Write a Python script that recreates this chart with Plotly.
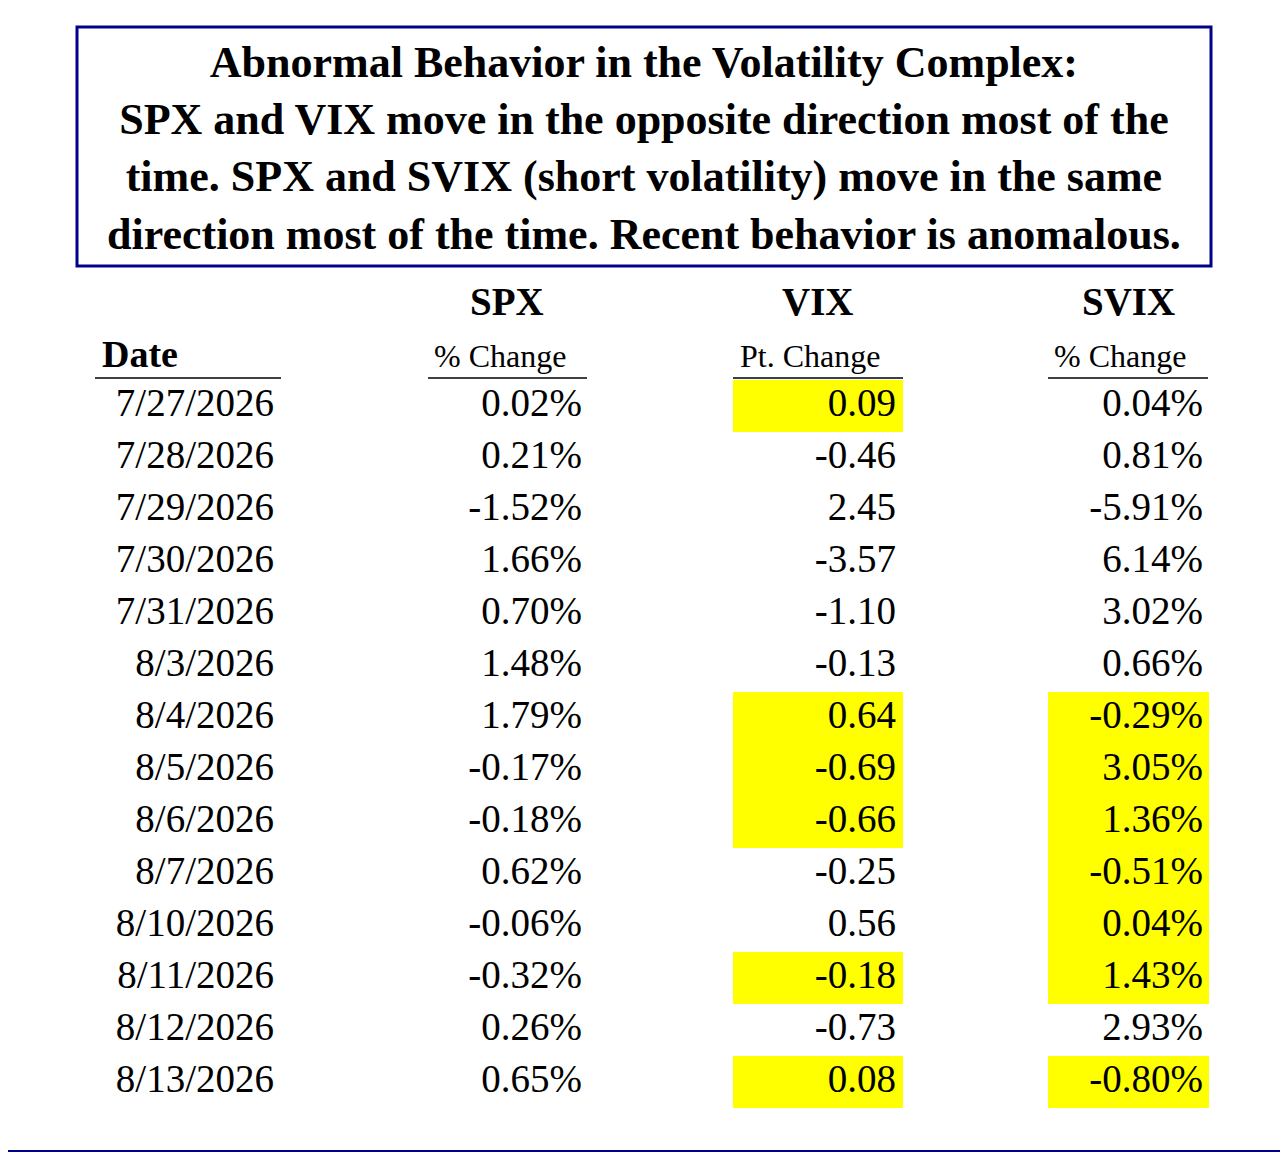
import plotly.graph_objects as go

dates = ["7/27/2026","7/28/2026","7/29/2026","7/30/2026","7/31/2026","8/3/2026","8/4/2026",
         "8/5/2026","8/6/2026","8/7/2026","8/10/2026","8/11/2026","8/12/2026","8/13/2026"]
spx = ["0.02%","0.21%","-1.52%","1.66%","0.70%","1.48%","1.79%","-0.17%","-0.18%","0.62%","-0.06%","-0.32%","0.26%","0.65%"]
vix = ["0.09","-0.46","2.45","-3.57","-1.10","-0.13","0.64","-0.69","-0.66","-0.25","0.56","-0.18","-0.73","0.08"]
svix = ["0.04%","0.81%","-5.91%","6.14%","3.02%","0.66%","-0.29%","3.05%","1.36%","-0.51%","0.04%","1.43%","2.93%","-0.80%"]
vix_hl = [0, 6, 7, 8, 11, 13]
svix_hl = [6, 7, 8, 9, 10, 11, 13]

FONT = "Liberation Serif, Times New Roman, serif"
NAVY = "#00008B"
W, H = 1288, 1152
OFF = 8
ys = [406 + 52 * i for i in range(len(dates))]

fig = go.Figure()
shapes = []
for i in vix_hl:
    shapes.append(dict(type="rect", x0=733, x1=903, y0=ys[i]-26, y1=ys[i]+26, fillcolor="#FFFF00", line_width=0, layer="below"))
for i in svix_hl:
    shapes.append(dict(type="rect", x0=1048, x1=1209, y0=ys[i]-26, y1=ys[i]+26, fillcolor="#FFFF00", line_width=0, layer="below"))
shapes.append(dict(type="rect", x0=1, x1=W-1, y0=1, y1=H-1, line=dict(color=NAVY, width=2)))
shapes.append(dict(type="rect", x0=77, x1=1211, y0=27, y1=266, line=dict(color=NAVY, width=3)))
for x0, x1 in [(95, 281), (428, 587), (733, 903), (1048, 1208)]:
    shapes.append(dict(type="line", x0=x0, x1=x1, y0=378, y1=378, line=dict(color="black", width=1.5)))

for xr, col in [(274, dates), (582, spx), (896, vix), (1203, svix)]:
    fig.add_trace(go.Scatter(x=[xr]*len(col), y=ys, text=col, mode="text", textposition="middle left",
                             textfont=dict(family=FONT, size=39, color="black"), hoverinfo="skip"))

ann = []
ann.append(dict(x=644, y=148, text="<b>Abnormal Behavior in the Volatility Complex:<br>SPX and VIX move in the opposite direction most of the<br>time. SPX and SVIX (short volatility) move in the same<br>direction most of the time. Recent behavior is anomalous.</b>",
                showarrow=False, font=dict(family=FONT, size=44, color="black"), align="center"))
for x, t in [(507, "SPX"), (818, "VIX"), (1128, "SVIX")]:
    ann.append(dict(x=x, y=301, text="<b>"+t+"</b>", showarrow=False, font=dict(family=FONT, size=39, color="black")))
ann.append(dict(x=100, y=354, text="<b>Date</b>", xanchor="left", showarrow=False, font=dict(family=FONT, size=38, color="black")))
for x, t in [(500, "% Change"), (810, "Pt. Change"), (1120, "% Change")]:
    ann.append(dict(x=x, y=356, text=t, showarrow=False, font=dict(family=FONT, size=32, color="black")))

fig.update_layout(width=W, height=H, margin=dict(l=0, r=0, t=0, b=0), showlegend=False,
                  plot_bgcolor="white", paper_bgcolor="white", shapes=shapes, annotations=ann,
                  xaxis=dict(range=[OFF, W+OFF], visible=False, fixedrange=True),
                  yaxis=dict(range=[H+OFF, OFF], visible=False, fixedrange=True))
fig.write_html("out.html", config={"displayModeBar": False})
